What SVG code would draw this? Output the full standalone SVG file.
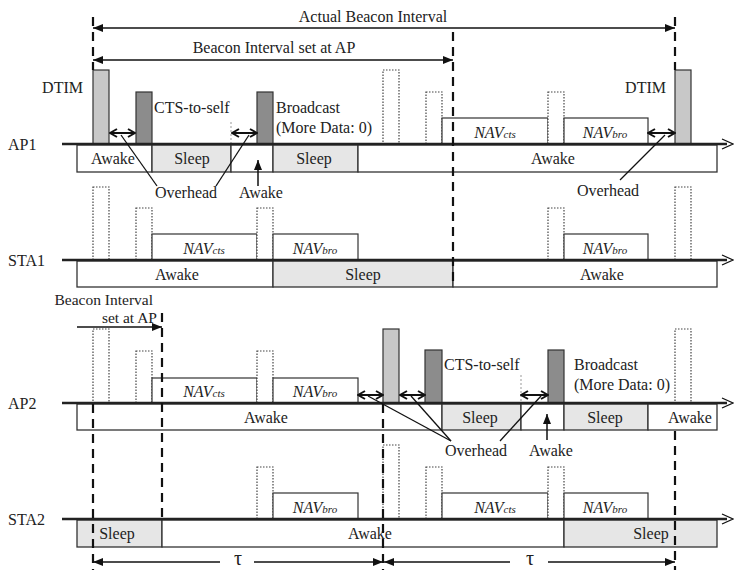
<svg xmlns="http://www.w3.org/2000/svg" width="734" height="570" viewBox="0 0 734 570" font-family="'Liberation Serif', 'DejaVu Serif', serif">
<style>
text{font-family:"Liberation Serif","DejaVu Serif",serif;font-size:16px;fill:#222}
.m{text-anchor:middle}
.e{text-anchor:end}
.nav{font-style:italic;text-anchor:middle}
.sub{font-size:11px}
.tau{font-size:20px;text-anchor:middle}
.bi{font-size:15.5px;text-anchor:end}
.axis{stroke:#222;stroke-width:2.5;fill:none}
.awake{fill:#fff;stroke:#333;stroke-width:1.3}
.sleep{fill:#e6e6e6;stroke:#333;stroke-width:1.3}
.navb{fill:#fff;stroke:#333;stroke-width:1.2}
.dot{fill:#fff;stroke:#444;stroke-width:1.2;stroke-dasharray:1.5 1.5}
.light{fill:#c8c8c8;stroke:#333;stroke-width:1.2}
.dark{fill:#8c8c8c;stroke:#333;stroke-width:1.2}
.dash{stroke:#111;stroke-width:2.2;stroke-dasharray:9 6;fill:none}
.thin{stroke:#999;stroke-width:1;stroke-dasharray:2 2;fill:none}
.ov{stroke:#111;stroke-width:2;fill:none;marker-start:url(#oa);marker-end:url(#oa)}
.ln{stroke:#111;stroke-width:1.3;fill:none}
.arr{stroke:#111;stroke-width:1.5;fill:none}
</style>
<defs>
<marker id="oa" viewBox="0 0 10 10" refX="9" refY="5" markerWidth="10" markerHeight="10" markerUnits="userSpaceOnUse" orient="auto-start-reverse">
<path d="M2,1 L9,5 L2,9" fill="none" stroke="#111" stroke-width="2"/>
</marker>
<marker id="fa" viewBox="0 0 10 8" refX="10" refY="4" markerWidth="10" markerHeight="8" markerUnits="userSpaceOnUse" orient="auto-start-reverse">
<path d="M0,0 L10,4 L0,8 z" fill="#111"/>
</marker>
</defs>

<!-- AP1 -->
<g id="AP1">
<text x="8" y="150">AP1</text>
<rect class="awake" x="77" y="145" width="75" height="27"/>
<rect class="sleep" x="152" y="145" width="79" height="27"/>
<rect class="awake" x="231" y="145" width="42" height="27"/>
<rect class="sleep" x="273" y="145" width="85" height="27"/>
<rect class="awake" x="358" y="145" width="359" height="27"/>
<text class="m" x="113" y="164">Awake</text>
<text class="m" x="192" y="164">Sleep</text>
<text class="m" x="314" y="164">Sleep</text>
<text class="m" x="553" y="164">Awake</text>
<rect class="light" x="93" y="70" width="16" height="74"/>
<rect class="dark" x="136" y="92" width="16" height="52"/>
<rect class="dark" x="257" y="92" width="16" height="52"/>
<rect class="dot" x="383" y="70" width="16" height="74"/>
<rect class="dot" x="426" y="92" width="16" height="52"/>
<rect class="navb" x="442" y="118" width="106" height="26"/>
<rect class="dot" x="548" y="92" width="16" height="52"/>
<rect class="navb" x="564" y="118" width="84" height="26"/>
<rect class="light" x="675" y="70" width="16" height="74"/>
<text class="nav" x="495" y="138">NAV<tspan class="sub">cts</tspan></text>
<text class="nav" x="605" y="138">NAV<tspan class="sub">bro</tspan></text>
<text class="e" x="83" y="93">DTIM</text>
<text x="154" y="113">CTS-to-self</text>
<text x="276" y="113">Broadcast</text>
<text x="276" y="133">(More Data: 0)</text>
<text class="e" x="666" y="93">DTIM</text>
<line class="thin" x1="231" y1="122" x2="231" y2="144"/>
</g>

<!-- STA1 -->
<g id="STA1">
<text x="8" y="266">STA1</text>
<rect class="awake" x="77" y="261" width="196" height="26"/>
<rect class="sleep" x="273" y="261" width="180" height="26"/>
<rect class="awake" x="453" y="261" width="264" height="26"/>
<text class="m" x="177" y="280">Awake</text>
<text class="m" x="363" y="280">Sleep</text>
<text class="m" x="602" y="280">Awake</text>
<rect class="dot" x="93" y="187" width="16" height="73"/>
<rect class="dot" x="136" y="208" width="16" height="52"/>
<rect class="navb" x="152" y="234" width="105" height="26"/>
<rect class="dot" x="257" y="208" width="16" height="52"/>
<rect class="navb" x="273" y="234" width="85" height="26"/>
<rect class="dot" x="548" y="208" width="16" height="52"/>
<rect class="navb" x="564" y="234" width="84" height="26"/>
<rect class="dot" x="675" y="187" width="16" height="73"/>
<text class="nav" x="204" y="254">NAV<tspan class="sub">cts</tspan></text>
<text class="nav" x="315" y="254">NAV<tspan class="sub">bro</tspan></text>
<text class="nav" x="605" y="254">NAV<tspan class="sub">bro</tspan></text>
</g>

<!-- AP2 -->
<g id="AP2">
<text x="8" y="409">AP2</text>
<rect class="awake" x="77" y="404" width="365" height="26"/>
<rect class="sleep" x="442" y="404" width="79" height="26"/>
<rect class="awake" x="521" y="404" width="43" height="26"/>
<rect class="sleep" x="564" y="404" width="84" height="26"/>
<rect class="awake" x="648" y="404" width="69" height="26"/>
<text class="m" x="266" y="423">Awake</text>
<text class="m" x="480" y="423">Sleep</text>
<text class="m" x="605" y="423">Sleep</text>
<text class="m" x="690" y="423">Awake</text>
<rect class="dot" x="93" y="329" width="16" height="74"/>
<rect class="dot" x="136" y="351" width="16" height="52"/>
<rect class="navb" x="152" y="378" width="105" height="25"/>
<rect class="dot" x="257" y="351" width="16" height="52"/>
<rect class="navb" x="273" y="378" width="85" height="25"/>
<rect class="light" x="383" y="329" width="16" height="74"/>
<rect class="dark" x="425" y="350" width="17" height="53"/>
<rect class="dark" x="548" y="350" width="16" height="53"/>
<rect class="dot" x="675" y="329" width="16" height="74"/>
<text class="nav" x="204" y="397">NAV<tspan class="sub">cts</tspan></text>
<text class="nav" x="315" y="397">NAV<tspan class="sub">bro</tspan></text>
<text x="444" y="370">CTS-to-self</text>
<text x="574" y="370">Broadcast</text>
<text x="574" y="390">(More Data: 0)</text>
<text class="bi" x="153" y="305">Beacon Interval</text>
<text class="bi" x="157" y="323">set at AP</text>
<line class="thin" x1="521" y1="375" x2="521" y2="403"/>
</g>

<!-- STA2 -->
<g id="STA2">
<text x="8" y="525">STA2</text>
<rect class="sleep" x="77" y="520" width="85" height="27"/>
<rect class="awake" x="162" y="520" width="402" height="27"/>
<rect class="sleep" x="564" y="520" width="153" height="27"/>
<text class="m" x="117" y="539">Sleep</text>
<text class="m" x="370" y="539">Awake</text>
<text class="m" x="651" y="539">Sleep</text>
<rect class="dot" x="257" y="467" width="16" height="52"/>
<rect class="navb" x="273" y="493" width="85" height="26"/>
<rect class="dot" x="383" y="445" width="16" height="74"/>
<rect class="dot" x="426" y="467" width="16" height="52"/>
<rect class="navb" x="442" y="493" width="106" height="26"/>
<rect class="dot" x="548" y="467" width="16" height="52"/>
<rect class="navb" x="564" y="493" width="84" height="26"/>
<text class="nav" x="315" y="513">NAV<tspan class="sub">bro</tspan></text>
<text class="nav" x="495" y="513">NAV<tspan class="sub">cts</tspan></text>
<text class="nav" x="605" y="513">NAV<tspan class="sub">bro</tspan></text>
</g>

<!-- connectors -->
<g id="connectors">
<line class="axis" x1="62" y1="144" x2="727" y2="144"/>
<line class="axis" x1="62" y1="260" x2="727" y2="260"/>
<line class="axis" x1="62" y1="403" x2="727" y2="403"/>
<line class="axis" x1="62" y1="519" x2="727" y2="519"/>
<path d="M722,139 L733,144 L722,149" class="ln" stroke-width="1.5"/>
<path d="M722,255 L733,260 L722,265" class="ln" stroke-width="1.5"/>
<path d="M722,398 L733,403 L722,408" class="ln" stroke-width="1.5"/>
<path d="M722,514 L733,519 L722,524" class="ln" stroke-width="1.5"/>

<line class="dash" x1="93" y1="17" x2="93" y2="70"/>
<line class="dash" x1="93" y1="404" x2="93" y2="570"/>
<line class="dash" x1="453" y1="32" x2="453" y2="287"/>
<line class="dash" x1="675" y1="17" x2="675" y2="70"/>
<line class="dash" x1="675" y1="431" x2="675" y2="570"/>
<line class="dash" x1="162" y1="313" x2="162" y2="519"/>
<line class="dash" x1="383" y1="404" x2="383" y2="570"/>

<line class="arr" x1="93" y1="28" x2="675" y2="28" marker-start="url(#fa)" marker-end="url(#fa)"/>
<text class="m" x="373" y="22">Actual Beacon Interval</text>
<line class="arr" x1="93" y1="60" x2="453" y2="60" marker-start="url(#fa)" marker-end="url(#fa)"/>
<text class="m" x="274" y="53">Beacon Interval set at AP</text>
<line class="arr" x1="77" y1="327" x2="162" y2="327" marker-end="url(#fa)"/>

<line class="arr" x1="93" y1="562" x2="220" y2="562" marker-start="url(#fa)"/>
<line class="arr" x1="254" y1="562" x2="383" y2="562" marker-end="url(#fa)"/>
<text class="tau" x="238" y="565">τ</text>
<line class="arr" x1="384" y1="562" x2="510" y2="562" marker-start="url(#fa)"/>
<line class="arr" x1="548" y1="562" x2="675" y2="562" marker-end="url(#fa)"/>
<text class="tau" x="530" y="565">τ</text>

<line class="ov" x1="110" y1="133" x2="135" y2="133"/>
<line class="ov" x1="232" y1="133" x2="257" y2="133"/>
<line class="ov" x1="648" y1="133" x2="675" y2="133"/>
<line class="ov" x1="358" y1="395" x2="383" y2="395"/>
<line class="ov" x1="400" y1="395" x2="425" y2="395"/>
<line class="ov" x1="521" y1="395" x2="548" y2="395"/>

<line class="ln" x1="121" y1="135" x2="157" y2="186"/>
<line class="ln" x1="249" y1="135" x2="216" y2="186"/>
<line class="ln" x1="665" y1="135" x2="620" y2="180"/>
<line class="ln" x1="368" y1="396" x2="451" y2="441"/>
<line class="ln" x1="411" y1="396" x2="451" y2="441"/>
<line class="ln" x1="541" y1="396" x2="500" y2="441"/>
<line class="arr" x1="258" y1="186" x2="258" y2="160" marker-end="url(#fa)"/>
<line class="arr" x1="547" y1="440" x2="547" y2="414" marker-end="url(#fa)"/>
<text class="m" x="186" y="198">Overhead</text>
<text class="m" x="261" y="198">Awake</text>
<text class="m" x="608" y="196">Overhead</text>
<text class="m" x="476" y="456">Overhead</text>
<text class="m" x="551" y="456">Awake</text>
</g>
</svg>
